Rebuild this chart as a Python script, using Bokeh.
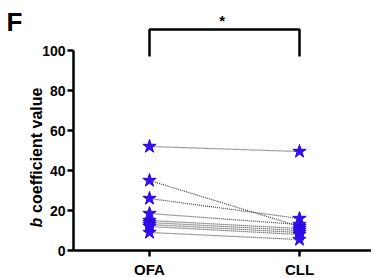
import math
from bokeh.plotting import figure
from bokeh.models import ColumnDataSource, Range1d, FixedTicker, Label
from bokeh.embed import file_html
from bokeh.resources import INLINE

# ---- data ----
categories = ["OFA", "CLL"]
cat_pos = [1, 2]
ofa_values = [52, 35, 26, 18.5, 15, 14, 13, 12, 9]
cll_values = [49.5, 12, 16, 13, 11, 10, 9, 8, 5.5]
y_ticks = [0, 20, 40, 60, 80, 100]
y_axis_bounds = (0, 100)
sig_text = "*"
panel_letter = "F"
y_label_italic = "b"
y_label_rest = "coefficient value"

FONT = "Liberation Sans"
STAR_COLOR = "#3410f4"

W, H = 371, 276
PX_X = 150.0           # px per category unit
PX_Y = 2.0             # px per value unit
X0 = cat_pos[0] - 149 / PX_X
Y_TOP = 250 / PX_Y
AXIS_X = cat_pos[0] - 76 / PX_X

p = figure(width=W, height=H, output_backend="svg", toolbar_location=None,
           min_border_left=0, min_border_right=0, min_border_top=0, min_border_bottom=0,
           x_range=Range1d(X0, X0 + W / PX_X),
           y_range=Range1d(Y_TOP - H / PX_Y, Y_TOP))
p.outline_line_color = None
p.grid.visible = False
p.background_fill_color = "white"
p.border_fill_color = "white"

# axes (placed at fixed data locations)
ya = p.yaxis[0]
ya.fixed_location = AXIS_X
ya.bounds = y_axis_bounds
ya.ticker = FixedTicker(ticks=y_ticks)
ya.minor_tick_line_color = None
ya.major_tick_in = 0
ya.major_tick_out = 6
ya.axis_line_width = 2.5
ya.major_tick_line_width = 2.5
ya.major_label_standoff = 2
ya.major_label_text_font = FONT
ya.major_label_text_font_style = "bold"
ya.major_label_text_font_size = "14px"
ya.major_label_text_color = "black"

xa = p.xaxis[0]
xa.fixed_location = 0
xa.bounds = (AXIS_X, X0 + W / PX_X)
xa.ticker = FixedTicker(ticks=cat_pos)
xa.major_label_overrides = {pos: c for pos, c in zip(cat_pos, categories)}
xa.minor_tick_line_color = None
xa.major_tick_in = 0
xa.major_tick_out = 6
xa.axis_line_width = 2.5
xa.major_tick_line_width = 2.5
xa.major_label_standoff = 4
xa.major_label_text_font = FONT
xa.major_label_text_font_style = "bold"
xa.major_label_text_font_size = "15px"
xa.major_label_text_color = "black"

# paired lines
n = len(ofa_values)
src = ColumnDataSource(dict(x0=[cat_pos[0]] * n, y0=ofa_values,
                            x1=[cat_pos[1]] * n, y1=cll_values))
p.segment(x0="x0", y0="y0", x1="x1", y1="y1", source=src,
          line_color="#444444", line_dash="1 1", line_width=1.2)

# stars
pts = ColumnDataSource(dict(x=[cat_pos[0]] * n + [cat_pos[1]] * n,
                            y=ofa_values + cll_values))
p.scatter(x="x", y="y", source=pts, marker="star", size=14,
          fill_color=STAR_COLOR, line_color="#2a08dd", line_width=1)

# significance bracket
br_top = 110.5
br_bottom = 97
p.line(x=[cat_pos[0], cat_pos[0], cat_pos[1], cat_pos[1]],
       y=[br_bottom, br_top, br_top, br_bottom], line_color="black", line_width=2.5)
p.add_layout(Label(x=(cat_pos[0] + cat_pos[1]) / 2 - 0.015, y=115, text=sig_text,
                   text_align="center", text_baseline="middle", text_color="black",
                   text_font=FONT, text_font_style="bold", text_font_size="15px"))

# panel letter
p.add_layout(Label(x=X0 + 6 / PX_X, y=122, text=panel_letter, text_align="left",
                   text_baseline="top", text_font=FONT, text_font_style="bold",
                   text_font_size="26px", text_color="black"))

# y label (italic b + bold rest)
lx = X0 + 35.5 / PX_X
p.add_layout(Label(x=lx, y=11.5, text=y_label_italic, angle=math.pi / 2,
                   text_align="left", text_baseline="middle", text_font=FONT,
                   text_font_style="bold italic", text_font_size="16px",
                   text_color="black"))
p.add_layout(Label(x=lx, y=18.8, text=y_label_rest, angle=math.pi / 2,
                   text_align="left", text_baseline="middle", text_font=FONT,
                   text_font_style="bold", text_font_size="16px",
                   text_color="black"))

open("out.html", "w").write(file_html(p, INLINE))
